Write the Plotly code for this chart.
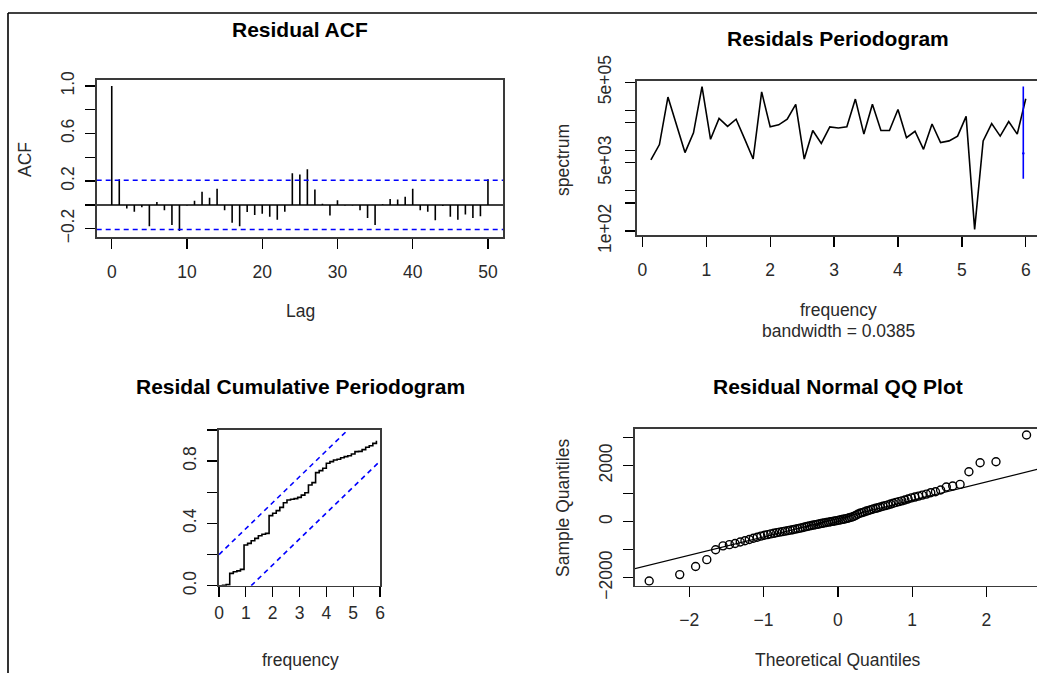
import plotly.graph_objects as go
from statistics import NormalDist

W, H = 1037, 673

# ---------------- data ----------------
acf_lags = list(range(51))
acf_vals = [1.0, 0.215, -0.03, -0.057, -0.02, -0.18, 0.025, -0.045, -0.17, -0.22,
            -0.005, 0.034, 0.11, 0.06, 0.136, -0.045, -0.15, -0.18, -0.06, -0.085,
            -0.074, -0.10, -0.125, -0.057, 0.267, 0.255, 0.30, 0.13, 0.01, -0.09,
            0.04, -0.005, -0.005, -0.045, -0.11, -0.17, 0.005, 0.05, 0.045, 0.068,
            0.136, -0.045, -0.057, -0.13, -0.01, -0.10, -0.125, -0.08, -0.11, -0.096,
            0.215]
acf_ci = 0.2066

pg_freq = [round(k * 12 / 90, 4) for k in range(1, 46)]
pg_log10 = [3.77, 4.15, 5.33, 4.62, 3.95, 4.44, 5.59, 4.28, 4.80, 4.60,
            4.78, 4.29, 3.79, 5.46, 4.59, 4.64, 4.78, 5.15, 3.79, 4.50,
            4.18, 4.59, 4.56, 4.59, 5.28, 4.41, 5.15, 4.50, 4.50, 5.02,
            4.32, 4.48, 4.03, 4.66, 4.20, 4.24, 4.36, 4.85, 2.04, 4.24,
            4.67, 4.36, 4.72, 4.41, 5.29]
pg_spec = [10 ** v for v in pg_log10]
pg_bandwidth = 0.0385
pg_ci_x = 5.9615
pg_ci_lo, pg_ci_mid, pg_ci_hi = 2.0e3, 8.5e3, 3.9e5

cp_freq = [round(k * 12 / 90, 4) for k in range(45)]
cp_vals = [0.0, 0.002, 0.007, 0.079, 0.09, 0.095, 0.105, 0.261, 0.272, 0.289,
           0.304, 0.321, 0.33, 0.336, 0.45, 0.465, 0.482, 0.503, 0.533, 0.55,
           0.555, 0.559, 0.567, 0.582, 0.597, 0.647, 0.662, 0.726, 0.739, 0.754,
           0.786, 0.797, 0.807, 0.812, 0.822, 0.829, 0.835, 0.846, 0.861, 0.863,
           0.874, 0.889, 0.899, 0.914, 0.931]
cp_upper_x, cp_upper_y = [0.0, 4.8], [0.2, 1.0]
cp_lower_x, cp_lower_y = [1.2, 6.0], [0.0, 0.8]

qq_sample = [-2119, -1890, -1600, -1355, -1000, -862, -820, -780, -725, -680,
             -635, -590, -555, -515, -485, -460, -435, -415, -392, -372,
             -355, -338, -320, -302, -285, -265, -248, -230, -212, -190,
             -170, -152, -135, -120, -105, -90, -72, -58, -42, -28,
             -14, 0, 12, 25, 40, 55, 70, 85, 100, 120,
             140, 160, 185, 220, 265, 300, 325, 350, 380, 405,
             430, 455, 478, 500, 525, 550, 575, 600, 630, 660,
             690, 718, 745, 775, 810, 850, 880, 915, 950, 985,
             1036, 1071, 1131, 1238, 1274, 1333, 1786, 2107, 2143, 3095]
qq_line_intercept = 110
qq_line_slope = 655

n_qq = len(qq_sample)
qq_theory = [NormalDist().inv_cdf((i - 0.5) / n_qq) for i in range(1, n_qq + 1)]

# ---------------- helpers ----------------
def px(x):
    return x / W


def py(y):
    return 1 - y / H


FONT = "Liberation Sans, Arial, Helvetica, sans-serif"
TXT = "#2a2a2a"
BOX = "#3a3a3a"
MINUS = "\u2212"

fig = go.Figure()

# ---- ACF ----
ax, ay = [], []
for l, v in zip(acf_lags, acf_vals):
    ax += [l, l, None]
    ay += [0, v, None]
fig.add_trace(go.Scatter(x=ax, y=ay, mode="lines", line=dict(color="black", width=1.6),
                         xaxis="x", yaxis="y", showlegend=False, hoverinfo="skip"))
fig.add_trace(go.Scatter(x=[-2, 52], y=[0, 0], mode="lines", line=dict(color="black", width=1.5),
                         xaxis="x", yaxis="y", showlegend=False, hoverinfo="skip"))
for s in (1, -1):
    fig.add_trace(go.Scatter(x=[-2, 52], y=[s * acf_ci, s * acf_ci], mode="lines",
                             line=dict(color="#0000ff", width=1.6, dash="5px,4px"),
                             xaxis="x", yaxis="y", showlegend=False, hoverinfo="skip"))

# ---- Periodogram ----
fig.add_trace(go.Scatter(x=pg_freq, y=pg_spec, mode="lines", line=dict(color="black", width=1.6),
                         xaxis="x2", yaxis="y2", showlegend=False, hoverinfo="skip"))
fig.add_trace(go.Scatter(x=[pg_ci_x, pg_ci_x, None, pg_ci_x - pg_bandwidth / 2, pg_ci_x + pg_bandwidth / 2],
                         y=[pg_ci_lo, pg_ci_hi, None, pg_ci_mid, pg_ci_mid], mode="lines",
                         line=dict(color="#0000ff", width=1.6),
                         xaxis="x2", yaxis="y2", showlegend=False, hoverinfo="skip"))

# ---- Cumulative periodogram ----
fig.add_trace(go.Scatter(x=cp_freq, y=cp_vals, mode="lines", line=dict(color="black", width=1.6, shape="hv"),
                         xaxis="x3", yaxis="y3", showlegend=False, hoverinfo="skip"))
fig.add_trace(go.Scatter(x=cp_upper_x, y=cp_upper_y, mode="lines",
                         line=dict(color="#0000ff", width=1.6, dash="5px,4px"),
                         xaxis="x3", yaxis="y3", showlegend=False, hoverinfo="skip"))
fig.add_trace(go.Scatter(x=cp_lower_x, y=cp_lower_y, mode="lines",
                         line=dict(color="#0000ff", width=1.6, dash="5px,4px"),
                         xaxis="x3", yaxis="y3", showlegend=False, hoverinfo="skip"))

# ---- QQ ----
fig.add_trace(go.Scatter(x=[-3, 3], y=[qq_line_intercept - 3 * qq_line_slope, qq_line_intercept + 3 * qq_line_slope],
                         mode="lines", line=dict(color="black", width=1.2),
                         xaxis="x4", yaxis="y4", showlegend=False, hoverinfo="skip"))
fig.add_trace(go.Scatter(x=qq_theory, y=qq_sample, mode="markers",
                         marker=dict(symbol="circle-open", size=8, color="black", line=dict(width=1.4)),
                         xaxis="x4", yaxis="y4", showlegend=False, hoverinfo="skip"))

tickfont = dict(family=FONT, size=17.5, color=TXT)
common = dict(showgrid=False, zeroline=False, ticks="outside", ticklen=10, tickwidth=1.3,
              tickcolor="black", showline=True, linecolor=BOX, linewidth=1.6,
              tickfont=tickfont, fixedrange=True, automargin=False)

fig.update_layout(
    template="none",
    width=W, height=H, margin=dict(l=0, r=0, t=0, b=0, pad=0), autosize=False,
    paper_bgcolor="white", plot_bgcolor="white",
    xaxis=dict(domain=[px(96.7), px(503)], range=[-2, 52], anchor="y", mirror=True,
               tickvals=[0, 10, 20, 30, 40, 50], ticklabelstandoff=8, **common),
    yaxis=dict(domain=[py(237), py(80)], range=[-0.27, 1.05], anchor="x", mirror=True,
               tickvals=[-0.2, 0, 0.2, 0.4, 0.6, 0.8, 1.0],
               ticktext=[MINUS + "0.2", "", "0.2", "", "0.6", "", "1.0"],
               tickangle=-90, ticklabelstandoff=4, **common),
    xaxis2=dict(domain=[px(636.7), 1.0], range=[-0.089, 6.176], anchor="y2", mirror=True,
                tickvals=[0, 1, 2, 3, 4, 5, 6], ticklabelstandoff=8, **common),
    yaxis2=dict(domain=[py(235), py(81)], type="log", range=[1.9, 5.73], anchor="x2",
                tickvals=[1e2, 5e2, 1e3, 5e3, 1e4, 5e4, 1e5, 5e5],
                ticktext=["1e+02", "", "", "5e+03", "", "", "", "5e+05"],
                tickangle=-90, ticklabelstandoff=7, **common),
    xaxis3=dict(domain=[px(219), px(380)], range=[0, 6], anchor="y3", mirror=True,
                tickvals=[0, 1, 2, 3, 4, 5, 6], ticklabelstandoff=1, **common),
    yaxis3=dict(domain=[py(585.7), py(430)], range=[0, 1], anchor="x3", mirror=True,
                tickvals=[0, 0.2, 0.4, 0.6, 0.8, 1.0],
                ticktext=["0.0", "", "0.4", "", "0.8", ""],
                tickangle=-90, ticklabelstandoff=4, **common),
    xaxis4=dict(domain=[px(635), 1.0], range=[-2.73, 2.68], anchor="y4", mirror=True,
                tickvals=[-2, -1, 0, 1, 2],
                ticktext=[MINUS + "2", MINUS + "1", "0", "1", "2"], ticklabelstandoff=8, **common),
    yaxis4=dict(domain=[py(585.7), py(429)], range=[-2286, 3311], anchor="x4",
                tickvals=[-2000, -1000, 0, 1000, 2000, 3000],
                ticktext=[MINUS + "2000", "", "0", "", "2000", ""],
                tickangle=-90, ticklabelstandoff=4, **common),
)

# outer frame (left and top edges visible)
fig.add_shape(type="line", xref="paper", yref="paper", x0=px(8), y0=py(13), x1=1.0, y1=py(13),
              line=dict(color="black", width=1.6))
fig.add_shape(type="line", xref="paper", yref="paper", x0=px(8), y0=py(13), x1=px(8), y1=0,
              line=dict(color="black", width=1.6))


def ann(text, x, y, size=17.5, bold=False, angle=0):
    fig.add_annotation(text=("<b>%s</b>" % text) if bold else text, x=px(x), y=py(y),
                       xref="paper", yref="paper", showarrow=False, textangle=angle,
                       xanchor="center", yanchor="middle",
                       font=dict(family=FONT, size=size, color="black" if bold else TXT))


ann("Residual ACF", 300, 30, size=21, bold=True)
ann("Residals Periodogram", 838, 38, size=21, bold=True)
ann("Residal Cumulative Periodogram", 300, 387, size=21, bold=True)
ann("Residual Normal QQ Plot", 838, 387, size=21, bold=True)

ann("ACF", 25, 160, angle=-90)
ann("Lag", 300, 311)
ann("spectrum", 563, 160, angle=-90)
ann("frequency", 838, 310)
ann("bandwidth = 0.0385", 838, 331)
ann("frequency", 300, 660)
ann("Sample Quantiles", 563, 508, angle=-90)
ann("Theoretical Quantiles", 838, 660)

fig.write_html(
    "out.html",
    config={"displayModeBar": False, "staticPlot": True},
    post_script="document.body.style.margin='0';document.body.style.padding='0';"
                "document.body.style.overflow='hidden';",
)
